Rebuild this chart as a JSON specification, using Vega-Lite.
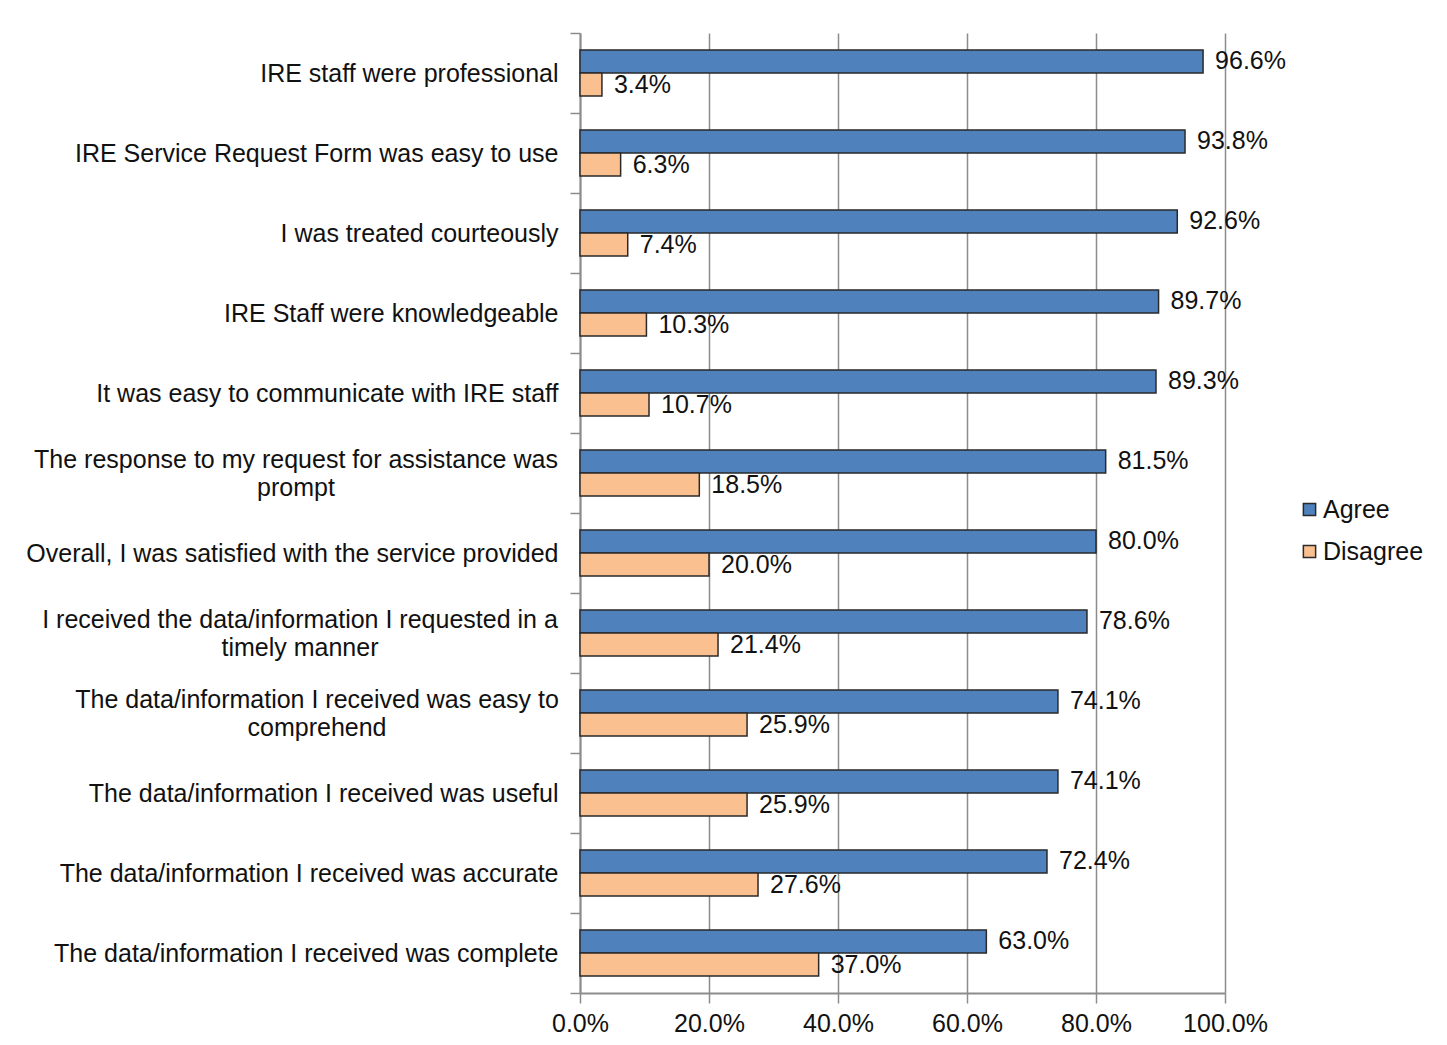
{
  "$schema": "https://vega.github.io/schema/vega-lite/v6.json",
  "autosize": "none",
  "width": 645,
  "height": 960,
  "padding": {"left": 580, "top": 33, "right": 222, "bottom": 52},
  "background": "white",
  "config": {
    "view": {"stroke": null},
    "font": "Liberation Sans"
  },
  "data": {
    "values": [
      {"item": "IRE staff were professional", "response": "Agree", "share": 0.966},
      {"item": "IRE staff were professional", "response": "Disagree", "share": 0.034},
      {"item": "IRE Service Request Form was easy to use", "response": "Agree", "share": 0.938},
      {"item": "IRE Service Request Form was easy to use", "response": "Disagree", "share": 0.063},
      {"item": "I was treated courteously", "response": "Agree", "share": 0.926},
      {"item": "I was treated courteously", "response": "Disagree", "share": 0.074},
      {"item": "IRE Staff were knowledgeable", "response": "Agree", "share": 0.897},
      {"item": "IRE Staff were knowledgeable", "response": "Disagree", "share": 0.103},
      {"item": "It was easy to communicate with IRE staff", "response": "Agree", "share": 0.893},
      {"item": "It was easy to communicate with IRE staff", "response": "Disagree", "share": 0.107},
      {"item": "The response to my request for assistance was|prompt", "response": "Agree", "share": 0.815},
      {"item": "The response to my request for assistance was|prompt", "response": "Disagree", "share": 0.185},
      {"item": "Overall, I was satisfied with the service provided", "response": "Agree", "share": 0.800},
      {"item": "Overall, I was satisfied with the service provided", "response": "Disagree", "share": 0.200},
      {"item": "I received the data/information I requested in a|timely manner", "response": "Agree", "share": 0.786},
      {"item": "I received the data/information I requested in a|timely manner", "response": "Disagree", "share": 0.214},
      {"item": "The data/information I received was easy to|comprehend", "response": "Agree", "share": 0.741},
      {"item": "The data/information I received was easy to|comprehend", "response": "Disagree", "share": 0.259},
      {"item": "The data/information I received was useful", "response": "Agree", "share": 0.741},
      {"item": "The data/information I received was useful", "response": "Disagree", "share": 0.259},
      {"item": "The data/information I received was accurate", "response": "Agree", "share": 0.724},
      {"item": "The data/information I received was accurate", "response": "Disagree", "share": 0.276},
      {"item": "The data/information I received was complete", "response": "Agree", "share": 0.630},
      {"item": "The data/information I received was complete", "response": "Disagree", "share": 0.370}
    ]
  },
  "encoding": {
    "y": {
      "field": "item",
      "type": "nominal",
      "sort": null,
      "title": null,
      "scale": {"paddingInner": 0, "paddingOuter": 0},
      "axis": {
        "labelExpr": "indexof(datum.label, '|') >= 0 ? '' : datum.label",
        "labelFontSize": 25,
        "labelColor": "#111111",
        "labelLimit": 800,
        "labelPadding": 12,
        "labelAlign": "right",
        "labelBaseline": "middle",
        "tickBand": "extent",
        "tickSize": 10,
        "tickColor": "#8c8c8c",
        "tickWidth": 1.5,
        "domainColor": "#8c8c8c",
        "domainWidth": 2,
        "grid": false
      }
    }
  },
  "layer": [
    {
      "mark": {"type": "bar", "stroke": "#2a2a2a", "strokeWidth": 1.5},
      "encoding": {
        "x": {
          "field": "share",
          "type": "quantitative",
          "title": null,
          "scale": {"domain": [0, 1], "nice": false},
          "axis": {
            "values": [0, 0.2, 0.4, 0.6, 0.8, 1],
            "format": ".1%",
            "labelFontSize": 25,
            "labelColor": "#111111",
            "labelPadding": 8,
            "labelFlush": false,
            "tickSize": 10,
            "tickColor": "#8c8c8c",
            "tickWidth": 1.5,
            "domainColor": "#8c8c8c",
            "domainWidth": 2,
            "grid": true,
            "gridColor": "#8c8c8c",
            "gridWidth": 1.5
          }
        },
        "yOffset": {
          "field": "response",
          "type": "nominal",
          "sort": ["Agree", "Disagree"],
          "scale": {"paddingInner": 0, "paddingOuter": 0.739}
        },
        "color": {
          "field": "response",
          "type": "nominal",
          "scale": {"domain": ["Agree", "Disagree"], "range": ["#4f81bd", "#fac090"]},
          "legend": {
            "title": null,
            "orient": "none",
            "legendX": 717,
            "legendY": 464,
            "symbolType": "square",
            "symbolSize": 150,
            "symbolStrokeColor": "#2a2a2a",
            "symbolStrokeWidth": 1.5,
            "labelFontSize": 25,
            "labelColor": "#111111",
            "labelOffset": 1,
            "rowPadding": 16
          }
        }
      }
    },
    {
      "mark": {"type": "text", "align": "left", "baseline": "middle", "dx": 12, "fontSize": 25, "color": "#111111"},
      "encoding": {
        "x": {"field": "share", "type": "quantitative"},
        "yOffset": {"field": "response", "type": "nominal", "sort": ["Agree", "Disagree"]},
        "text": {"field": "share", "type": "quantitative", "format": ".1%"}
      }
    },
    {
      "transform": [
        {"filter": "datum.response == 'Agree' && indexof(datum.item, 'The response') == 0"}
      ],
      "mark": {"type": "text", "align": "center", "baseline": "line-bottom", "lineBreak": "|", "lineHeight": 28, "dx": -284, "dy": 2, "fontSize": 25, "color": "#111111"},
      "encoding": {
        "x": {"datum": 0},
        "text": {"field": "item"}
      }
    },
    {
      "transform": [
        {"filter": "datum.response == 'Agree' && indexof(datum.item, 'I received the data') == 0"}
      ],
      "mark": {"type": "text", "align": "center", "baseline": "line-bottom", "lineBreak": "|", "lineHeight": 28, "dx": -280, "dy": 2, "fontSize": 25, "color": "#111111"},
      "encoding": {
        "x": {"datum": 0},
        "text": {"field": "item"}
      }
    },
    {
      "transform": [
        {"filter": "datum.response == 'Agree' && indexof(datum.item, 'was easy to|') >= 0"}
      ],
      "mark": {"type": "text", "align": "center", "baseline": "line-bottom", "lineBreak": "|", "lineHeight": 28, "dx": -263, "dy": 2, "fontSize": 25, "color": "#111111"},
      "encoding": {
        "x": {"datum": 0},
        "text": {"field": "item"}
      }
    }
  ]
}
